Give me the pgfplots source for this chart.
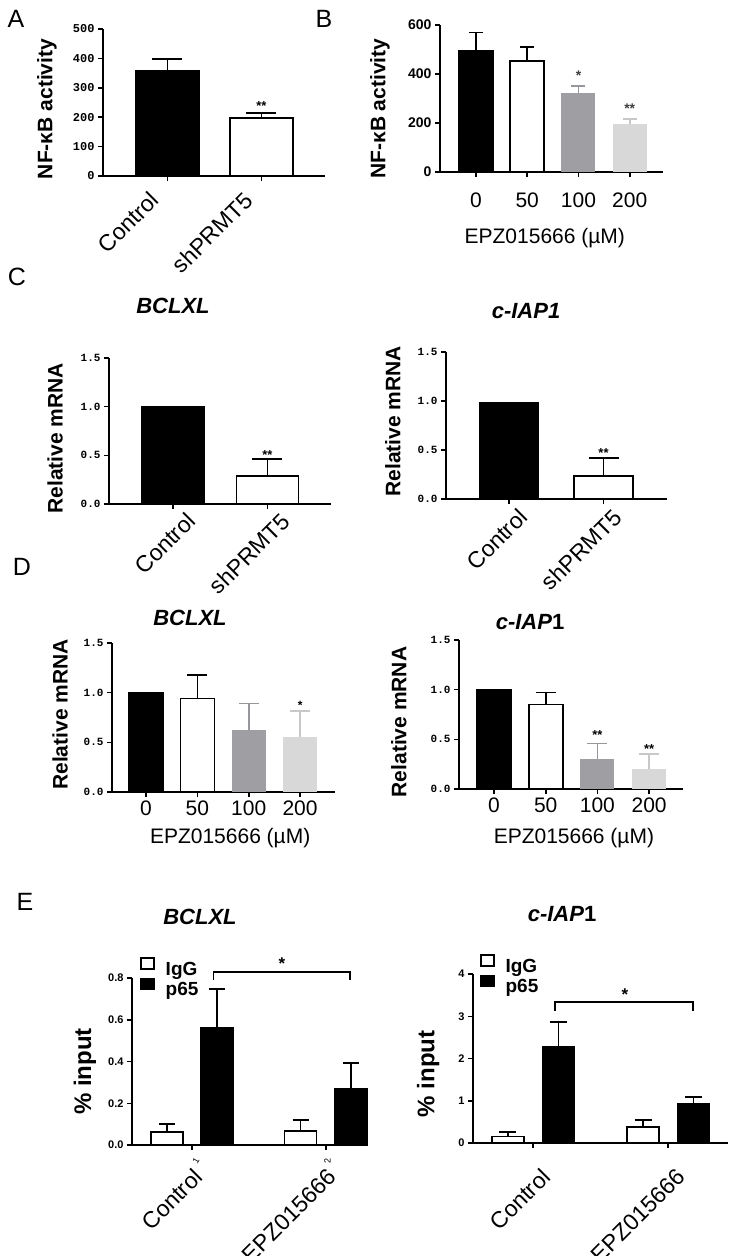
\documentclass[border=0pt]{standalone}
\usepackage{pgfplots}
\pgfplotsset{compat=1.18}
\usepackage{fontspec}
\setmainfont{Liberation Sans}
\newfontfamily\monof{Liberation Mono}
\definecolor{gA}{RGB}{158,158,163}
\definecolor{gB}{RGB}{216,216,216}
\definecolor{gAe}{RGB}{150,150,155}
\definecolor{gBe}{RGB}{200,200,200}
\newcommand\fs[1]{\fontsize{#1}{#1}\selectfont}
\pgfplotsset{
  base/.style={scale only axis, anchor=south west, clip=false,
    axis x line*=bottom, axis y line*=left,
    x axis line style={-}, y axis line style={-},
    axis line style={line width=1.6pt, black},
    tick style={line width=1.6pt, black},
    tick align=outside, major tick length=5pt,
    ymin=0,
    ylabel style={font=\bfseries\fs{21}},
    error bars/error bar style={line width=1.6pt},
  },
  bx/.style={ybar, bar shift=0pt, bar width=#1,
    error bars/y dir=plus, error bars/y explicit},
  em/.style 2 args={error bars/error bar style={#1},
    error bars/error mark options={rotate=90, #1, line width=1.6pt, mark size=#2}},
  rl/.style 2 args={xticklabel style={font=\fs{23}, inner sep=0pt, anchor=north east,
    xshift=#1, yshift=#2, rotate=45}},
}
\begin{document}
\begin{tikzpicture}
\path[use as bounding box] (0pt,0pt) rectangle (733pt,-1256pt);
% ---------------- A
\begin{axis}[base, at={(103pt,-176pt)}, width=222pt, height=147pt,
  xmin=-0.686, xmax=1.676, ymax=500,
  ytick={0,100,200,300,400,500}, yticklabels={0,100,200,300,400,500},
  yticklabel style={font=\monof\bfseries\fs{12}},
  xtick={0,1}, xticklabels={Control,shPRMT5}, rl={-19pt}{-9pt},
  ylabel={NF-κB activity},
  ylabel style={at={(axis description cs:-0.252,0.456)}, anchor=center}]
\addplot[bx=63pt, fill=black, draw=black, line width=1.6pt, em={black}{15pt}]
  coordinates {(0,357) +- (0,41)};
\addplot[bx=63pt, fill=white, draw=black, line width=1.6pt, em={black}{15pt}]
  coordinates {(1,197) +- (0,17)};
\node[font=\bfseries\fs{13}] at (axis cs:1,238) {**};
\end{axis}
% ---------------- B
\begin{axis}[base, at={(440pt,-172pt)}, width=223pt, height=147.3pt,
  xmin=-0.703, xmax=3.65, ymax=600,
  ytick={0,200,400,600}, yticklabels={0,200,400,600},
  yticklabel style={font=\bfseries\fs{14}},
  xtick={0,1,2,3}, xticklabels={0,50,100,200},
  xticklabel style={font=\fs{21}, yshift=-12pt},
  xlabel={EPZ015666 (µM)},
  xlabel style={font=\fs{21}, at={(axis description cs:0.47,-0.448)}, anchor=center},
  ylabel={NF-κB activity},
  ylabel style={at={(axis description cs:-0.269,0.43)}, anchor=center}]
\addplot[bx=34pt, fill=black, draw=black, line width=1.6pt, em={black}{7pt}]
  coordinates {(0,493) +- (0,76)};
\addplot[bx=34pt, fill=white, draw=black, line width=1.6pt, em={black}{7pt}]
  coordinates {(1,452) +- (0,56)};
\addplot[bx=34pt, fill=gA, draw=none, em={gAe}{7pt}]
  coordinates {(2,322) +- (0,28)};
\addplot[bx=34pt, fill=gB, draw=none, em={gBe}{7pt}]
  coordinates {(3,195) +- (0,21)};
\node[font=\bfseries\fs{14}, text=black!75] at (axis cs:2,392) {*};
\node[font=\bfseries\fs{14}, text=black!75] at (axis cs:3,257) {**};
\end{axis}
% ---------------- C left
\begin{axis}[base, at={(109pt,-504pt)}, width=222pt, height=146pt,
  xmin=-0.677, xmax=1.672, ymax=1.5,
  ytick={0,0.5,1,1.5}, yticklabels={0.0,0.5,1.0,1.5},
  yticklabel style={font=\monof\bfseries\fs{11}},
  xtick={0,1}, xticklabels={Control,shPRMT5}, rl={12pt}{-2pt},
  ylabel={Relative mRNA},
  ylabel style={at={(axis description cs:-0.243,0.45)}, anchor=center}]
\addplot[ybar, bar shift=0pt, bar width=62pt, fill=black, draw=black, line width=1.6pt]
  coordinates {(0,1.0)};
\addplot[bx=62pt, fill=white, draw=black, line width=1.6pt, em={black}{15pt}]
  coordinates {(1,0.29) +- (0,0.17)};
\node[font=\bfseries\fs{13}] at (axis cs:1,0.50) {**};
\end{axis}
% ---------------- C right
\begin{axis}[base, at={(446pt,-499pt)}, width=221pt, height=147pt,
  xmin=-0.667, xmax=1.672, ymax=1.5,
  ytick={0,0.5,1,1.5}, yticklabels={0.0,0.5,1.0,1.5},
  yticklabel style={font=\monof\bfseries\fs{11}},
  xtick={0,1}, xticklabels={Control,shPRMT5}, rl={8pt}{-3pt},
  ylabel={Relative mRNA},
  ylabel style={at={(axis description cs:-0.24,0.53)}, anchor=center}]
\addplot[ybar, bar shift=0pt, bar width=59pt, fill=black, draw=black, line width=1.6pt]
  coordinates {(0,0.98)};
\addplot[bx=59pt, fill=white, draw=black, line width=1.6pt, em={black}{15pt}]
  coordinates {(1,0.235) +- (0,0.185)};
\node[font=\bfseries\fs{13}] at (axis cs:1,0.47) {**};
\end{axis}
% ---------------- D left
\begin{axis}[base, at={(112pt,-792pt)}, width=223pt, height=149pt,
  xmin=-0.663, xmax=3.68, ymax=1.5,
  ytick={0,0.5,1,1.5}, yticklabels={0.0,0.5,1.0,1.5},
  yticklabel style={font=\monof\bfseries\fs{11}},
  xtick={0,1,2,3}, xticklabels={0,50,100,200},
  xticklabel style={font=\fs{21}},
  xlabel={EPZ015666 (µM)},
  xlabel style={font=\fs{21}, at={(axis description cs:0.53,-0.31)}, anchor=center},
  ylabel={Relative mRNA},
  ylabel style={at={(axis description cs:-0.233,0.52)}, anchor=center}]
\addplot[ybar, bar shift=0pt, bar width=34pt, fill=black, draw=black, line width=1.6pt]
  coordinates {(0,1.0)};
\addplot[bx=34pt, fill=white, draw=black, line width=1.6pt, em={black}{10pt}]
  coordinates {(1,0.94) +- (0,0.24)};
\addplot[bx=34pt, fill=gA, draw=none, em={gAe}{10pt}]
  coordinates {(2,0.62) +- (0,0.27)};
\addplot[bx=34pt, fill=gB, draw=none, em={gBe}{10pt}]
  coordinates {(3,0.555) +- (0,0.26)};
\node[font=\bfseries\fs{12}] at (axis cs:3,0.87) {*};
\end{axis}
% ---------------- D right
\begin{axis}[base, at={(459pt,-789pt)}, width=224pt, height=149pt,
  xmin=-0.677, xmax=3.656, ymax=1.5,
  ytick={0,0.5,1,1.5}, yticklabels={0.0,0.5,1.0,1.5},
  yticklabel style={font=\monof\bfseries\fs{11}},
  xtick={0,1,2,3}, xticklabels={0,50,100,200},
  xticklabel style={font=\fs{21}},
  xlabel={EPZ015666 (µM)},
  xlabel style={font=\fs{21}, at={(axis description cs:0.513,-0.33)}, anchor=center},
  ylabel={Relative mRNA},
  ylabel style={at={(axis description cs:-0.268,0.45)}, anchor=center}]
\addplot[ybar, bar shift=0pt, bar width=34pt, fill=black, draw=black, line width=1.6pt]
  coordinates {(0,1.0)};
\addplot[bx=34pt, fill=white, draw=black, line width=1.6pt, em={black}{10pt}]
  coordinates {(1,0.85) +- (0,0.12)};
\addplot[bx=34pt, fill=gA, draw=none, em={gAe}{10pt}]
  coordinates {(2,0.30) +- (0,0.16)};
\addplot[bx=34pt, fill=gB, draw=none, em={gBe}{10pt}]
  coordinates {(3,0.20) +- (0,0.15)};
\node[font=\bfseries\fs{13}] at (axis cs:2,0.54) {**};
\node[font=\bfseries\fs{13}] at (axis cs:3,0.40) {**};
\end{axis}
% ---------------- E left
\begin{axis}[base, at={(132pt,-1145pt)}, width=236pt, height=167pt,
  xmin=-0.448, xmax=1.313, ymax=0.8,
  axis line style={line width=1.5pt}, tick style={line width=1.5pt},
  ytick={0,0.2,0.4,0.6,0.8}, yticklabels={0.0,0.2,0.4,0.6,0.8},
  yticklabel style={font=\bfseries\fs{11}},
  xtick={0,1}, xticklabels={Control,EPZ015666}, rl={0pt}{-17pt},
  ylabel={\% input},
  ylabel style={font=\bfseries\fs{24}, at={(axis description cs:-0.2,0.44)}, anchor=center},
  legend style={at={(axis description cs:0.034,1.003)}, anchor=west, draw=none, fill=none,
    font=\bfseries\fs{19}, inner sep=0pt, row sep=0pt, column sep=10pt,
    nodes={inner sep=1pt}},
  legend cell align=left]
\addplot[bx=32pt, fill=white, draw=black, line width=1.5pt, em={black}{8pt},
  legend image code/.code={\draw[fill=white, draw=black, line width=1.5pt] (0pt,0pt) rectangle (13pt,11pt);}]
  coordinates {(-0.187,0.062) +- (0,0.038) (0.81,0.067) +- (0,0.053)};
\addlegendentry{IgG}
\addplot[bx=32pt, fill=black, draw=black, line width=1.5pt, em={black}{8pt},
  legend image code/.code={\draw[fill=black, draw=black, line width=1.5pt] (0pt,0pt) rectangle (13pt,11pt);}]
  coordinates {(0.187,0.56) +- (0,0.187) (1.187,0.268) +- (0,0.125)};
\addlegendentry{p65}
\draw[line width=1.5pt] (axis cs:0.16,0.79) -- (axis cs:0.16,0.829) -- (axis cs:1.18,0.829) -- (axis cs:1.18,0.79);
\node[font=\bfseries\fs{17}] at (axis cs:0.67,0.868) {*};
\node[font=\fs{9}, rotate=60] at (axis cs:0.03,-0.075) {1};
\node[font=\fs{9}, rotate=90] at (axis cs:1.01,-0.075) {2};
\end{axis}
% ---------------- E right
\begin{axis}[base, at={(473pt,-1143pt)}, width=255pt, height=169pt,
  xmin=-0.444, xmax=1.444, ymax=4,
  axis line style={line width=1.5pt}, tick style={line width=1.5pt},
  ytick={0,1,2,3,4}, yticklabels={0,1,2,3,4},
  yticklabel style={font=\bfseries\fs{11}},
  xtick={0,1}, xticklabels={Control,EPZ015666}, rl={7pt}{-19pt},
  ylabel={\% input},
  ylabel style={font=\bfseries\fs{24}, at={(axis description cs:-0.176,0.41)}, anchor=center},
  legend style={at={(axis description cs:0.027,0.997)}, anchor=west, draw=none, fill=none,
    font=\bfseries\fs{19}, inner sep=0pt, row sep=0pt, column sep=10pt,
    nodes={inner sep=1pt}},
  legend cell align=left]
\addplot[bx=32pt, fill=white, draw=black, line width=1.5pt, em={black}{8.5pt},
  legend image code/.code={\draw[fill=white, draw=black, line width=1.5pt] (0pt,0pt) rectangle (13pt,11pt);}]
  coordinates {(-0.185,0.15) +- (0,0.11) (0.815,0.38) +- (0,0.16)};
\addlegendentry{IgG}
\addplot[bx=32pt, fill=black, draw=black, line width=1.5pt, em={black}{8.5pt},
  legend image code/.code={\draw[fill=black, draw=black, line width=1.5pt] (0pt,0pt) rectangle (13pt,11pt);}]
  coordinates {(0.189,2.27) +- (0,0.59) (1.19,0.92) +- (0,0.17)};
\addlegendentry{p65}
\draw[line width=1.5pt] (axis cs:0.163,3.12) -- (axis cs:0.163,3.34) -- (axis cs:1.185,3.34) -- (axis cs:1.185,3.12);
\node[font=\bfseries\fs{17}] at (axis cs:0.68,3.50) {*};
\end{axis}
% ---------------- panel letters and titles
\node[font=\fs{25}] at (16pt,-19pt) {A};
\node[font=\fs{25}] at (324pt,-19pt) {B};
\node[font=\fs{25}] at (17pt,-277pt) {C};
\node[font=\fs{25}] at (22pt,-567pt) {D};
\node[font=\fs{25}] at (25pt,-902pt) {E};
\node[font=\bfseries\itshape\fs{22}] at (173pt,-306pt) {BCLXL};
\node[font=\bfseries\itshape\fs{22}] at (526pt,-311pt) {c-IAP1};
\node[font=\bfseries\itshape\fs{22}] at (190pt,-618pt) {BCLXL};
\node[font=\bfseries\fs{22}] at (530pt,-622pt) {\itshape c-IAP\upshape 1};
\node[font=\bfseries\itshape\fs{22}] at (200pt,-917pt) {BCLXL};
\node[font=\bfseries\fs{22}] at (562pt,-914pt) {\itshape c-IAP\upshape 1};
\end{tikzpicture}
\end{document}
